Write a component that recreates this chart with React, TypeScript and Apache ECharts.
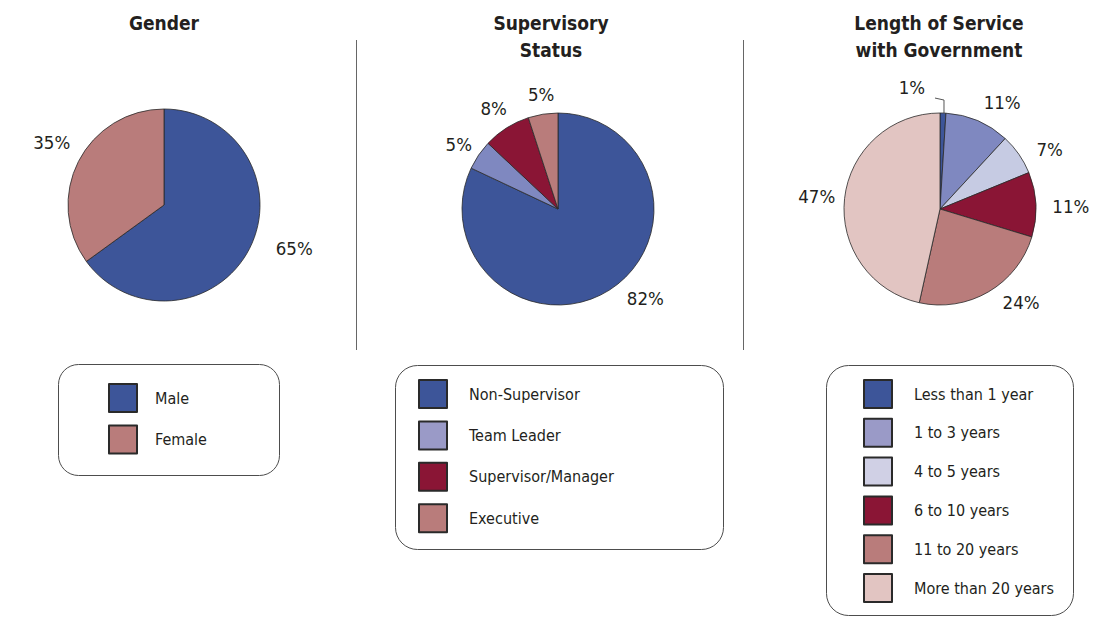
import React, { useEffect, useRef } from "react";
import * as echarts from "echarts";

// ---- Data ----
const genderCats = ["Male", "Female"];
const genderVals = [65, 35];

const supCats = ["Non-Supervisor", "Team Leader", "Supervisor/Manager", "Executive"];
const supVals = [82, 5, 8, 5];

const serviceCats = [
  "Less than 1 year",
  "1 to 3 years",
  "4 to 5 years",
  "6 to 10 years",
  "11 to 20 years",
  "More than 20 years",
];
const serviceVals = [1, 11, 7, 11, 24, 47];

const titles = ["Gender", "Supervisory\nStatus", "Length of Service\nwith Government"];

// ---- Styles ----
const FONT = "'DejaVu Sans Condensed', 'Liberation Sans Narrow', 'Open Sans', sans-serif";
const TEXT = "#231F20";
const BORDER = "#2a2a2a";
const BOX = "#4d4d4d";

const genderColors = ["#3D5599", "#B97C7B"];
const supColors = ["#3D5599", "#7F88C0", "#8A1535", "#B97C7B"];
const serviceColors = ["#3D5599", "#7F88C0", "#C6CBE3", "#8A1535", "#B97C7B", "#E2C5C2"];
const legendOverride: Record<string, string> = {
  "Team Leader": "#9A9AC7",
  "1 to 3 years": "#9A9AC7",
  "4 to 5 years": "#D0D0E5",
};

// label placement tweaks (px) relative to the radial position
const genderNudge = [[10, -18], [8, -1]];
const supNudge = [[23, -12], [0, 3], [0, 1], [2, 4]];
const serviceNudge = [[-11, -1], [13, 8], [7, 12], [6, 3], [18, -14], [1, 1]];

const RADIUS = 96;
const pies = [
  { cats: genderCats, vals: genderVals, colors: genderColors, center: [164, 205], dist: 135, nudge: genderNudge },
  { cats: supCats, vals: supVals, colors: supColors, center: [558, 209], dist: 120, nudge: supNudge },
  { cats: serviceCats, vals: serviceVals, colors: serviceColors, center: [940, 209], dist: 125, nudge: serviceNudge },
];

function midDir(vals: number[], i: number): [number, number] {
  const total = vals.reduce((a, b) => a + b, 0);
  let cum = 0;
  for (let k = 0; k < i; k++) cum += vals[k];
  cum += vals[i] / 2;
  const a = (cum / total) * Math.PI * 2;
  return [Math.sin(a), -Math.cos(a)];
}

export default function App() {
  const ref = useRef<HTMLDivElement>(null);
  useEffect(() => {
    if (!ref.current) return;
    const chart = echarts.init(ref.current, undefined, { renderer: "svg" });

    const series = pies.map((p, si) => ({
      type: "pie",
      center: p.center,
      radius: RADIUS,
      startAngle: 90,
      clockwise: true,
      avoidLabelOverlap: false,
      silent: true,
      itemStyle: { borderColor: BORDER, borderWidth: 0.8 },
      label: {
        show: true,
        position: "outside",
        formatter: "{c}%",
        fontFamily: FONT,
        fontSize: 18.5,
        color: TEXT,
      },
      labelLine: { show: false },
      labelLayout: (params: any) => {
        const i = params.dataIndex;
        const [dx, dy] = midDir(p.vals, i);
        const [cx, cy] = p.center;
        const [nx, ny] = p.nudge[i];
        if (si === 2 && i === 0) {
          const ex = cx + dx * RADIUS;
          const ey = cy + dy * RADIUS;
          return {
            x: ex - 20 + nx,
            y: ey - 25 + ny,
            align: "center",
            verticalAlign: "middle",
            labelLinePoints: [
              [ex + 1, ey],
              [ex + 1, ey - 13],
              [ex - 8, ey - 15],
            ],
          };
        }
        return {
          x: cx + dx * p.dist + nx,
          y: cy + dy * p.dist + ny,
          align: "center",
          verticalAlign: "middle",
        };
      },
      data: p.cats.map((name, i) => ({
        name,
        value: p.vals[i],
        itemStyle: { color: p.colors[i] },
        ...(si === 2 && i === 0
          ? { labelLine: { show: true, lineStyle: { color: "#555", width: 1 } } }
          : {}),
      })),
    }));

    const legendBase = {
      orient: "vertical",
      icon: "rect",
      itemWidth: 28,
      itemHeight: 28,
      padding: 0,
      height: 260,
      selectedMode: false,
      textStyle: { fontFamily: FONT, fontSize: 16, color: TEXT },
    };
    const mkLegendData = (cats: string[]) =>
      cats.map((n) => (legendOverride[n] ? { name: n, itemStyle: { color: legendOverride[n] } } : { name: n }));

    const legends = [
      { ...legendBase, data: mkLegendData(genderCats), left: 108, top: 383, itemGap: 11.5, textStyle: { ...legendBase.textStyle, padding: [0, 0, 0, 13] } },
      { ...legendBase, data: mkLegendData(supCats), left: 418, top: 379, itemGap: 11.4, textStyle: { ...legendBase.textStyle, padding: [0, 0, 0, 17] } },
      { ...legendBase, data: mkLegendData(serviceCats), left: 863, top: 379, itemGap: 8.8, textStyle: { ...legendBase.textStyle, padding: [0, 0, 0, 17] } },
    ];

    const titleX = [164, 551, 939];
    const graphic: any[] = [
      ...titles.map((t, i) => ({
        type: "text",
        x: titleX[i],
        y: 9,
        style: {
          text: t,
          fill: TEXT,
          font: `bold 19px ${FONT}`,
          align: "center",
          verticalAlign: "top",
          lineHeight: 27,
        },
      })),
      { type: "line", shape: { x1: 356.5, y1: 40, x2: 356.5, y2: 350 }, style: { stroke: "#666", lineWidth: 1 } },
      { type: "line", shape: { x1: 743.5, y1: 40, x2: 743.5, y2: 350 }, style: { stroke: "#666", lineWidth: 1 } },
      { type: "rect", shape: { x: 58.5, y: 364.5, width: 221, height: 111, r: 20 }, style: { fill: "none", stroke: BOX, lineWidth: 1 } },
      { type: "rect", shape: { x: 395.5, y: 365.5, width: 328, height: 184, r: 22 }, style: { fill: "none", stroke: BOX, lineWidth: 1 } },
      { type: "rect", shape: { x: 826.5, y: 365.5, width: 247, height: 250, r: 22 }, style: { fill: "none", stroke: BOX, lineWidth: 1 } },
    ];

    chart.setOption({
      animation: false,
      backgroundColor: "#ffffff",
      legend: legends,
      graphic,
      series,
    });
    return () => chart.dispose();
  }, []);

  return (
    <div
      ref={ref}
      style={{ position: "fixed", left: 0, top: 0, width: 1093, height: 618, background: "#fff" }}
    />
  );
}
